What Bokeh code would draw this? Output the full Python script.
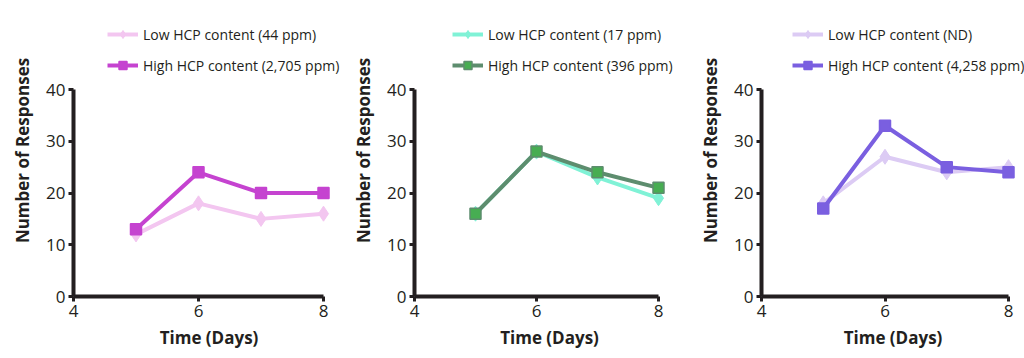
from bokeh.plotting import figure
from bokeh.layouts import row
from bokeh.models import Legend, LegendItem, FixedTicker, Range1d
from bokeh.embed import file_html
from bokeh.resources import INLINE

# ---- data ----
days = [5, 6, 7, 8]
low_1 = [12, 18, 15, 16]
high_1 = [13, 24, 20, 20]
low_2 = [16, 28, 23, 19]
high_2 = [16, 28, 24, 21]
low_3 = [18, 27, 24, 25]
high_3 = [17, 33, 25, 24]
low_labels = ["Low HCP content (44 ppm)", "Low HCP content (17 ppm)", "Low HCP content (ND)"]
high_labels = ["High HCP content (2,705 ppm)", "High HCP content (396 ppm)", "High HCP content (4,258 ppm)"]
x_ticks = [4, 6, 8]
y_ticks = [0, 10, 20, 30, 40]
x_title = "Time (Days)"
y_title = "Number of Responses"

# ---- style ----
FONT = "Open Sans"
AX = "#231f20"
panels = [
    dict(X0=0, L=73, R=323, low=low_1, high=high_1, lc="#f3c6f0", lf="#f3c6f0", hc="#c543d0", hf="#c543d0", vx=34),
    dict(X0=344, L=414, R=658, low=low_2, high=high_2, lc="#80f2d6", lf="#80f2d6", hc="#5d8d6e", hf="#47ad52", vx=38),
    dict(X0=684, L=761, R=1008, low=low_3, high=high_3, lc="#dccbf4", lf="#dccbf4", hc="#7a5fe0", hf="#7a5fe0", vx=31),
]
FIG_END = [344, 684, 1024]
TOP40, BOT0, FRAME_TOP = 89, 296, 4
H = 358

figs = []
for i, pn in enumerate(panels):
    L, R, X0 = pn["L"], pn["R"], pn["X0"]
    frame_w = FIG_END[i] - L
    ext = frame_w - (R - L)
    x_end = 8 + ext * 4.0 / (R - L)
    ppu_y = (BOT0 - TOP40) / 40.0
    y_end = 40 + (TOP40 - FRAME_TOP) / ppu_y
    bl = L - X0
    bt = FRAME_TOP
    fh = BOT0 - FRAME_TOP
    bb = H - bt - fh
    p = figure(width=FIG_END[i] - X0, height=H, output_backend="svg", toolbar_location=None,
               x_range=Range1d(4, x_end), y_range=Range1d(0, y_end),
               min_border_left=bl, min_border_right=0, min_border_top=bt, min_border_bottom=bb)
    p.outline_line_color = None
    p.grid.visible = False
    for ax in (p.xaxis[0], p.yaxis[0]):
        ax.axis_line_width = 4
        ax.axis_line_color = AX
        ax.major_tick_line_width = 3
        ax.major_tick_line_color = AX
        ax.major_tick_out = 5
        ax.major_tick_in = 0
        ax.minor_tick_out = 0
        ax.minor_tick_in = 0
        ax.major_label_text_font = FONT
        ax.major_label_text_font_size = "17px"
        ax.major_label_text_color = AX
        ax.major_label_standoff = 3
        ax.axis_label_text_font = FONT
        ax.axis_label_text_font_style = "bold"
        ax.axis_label_text_font_size = "17px"
        ax.axis_label_text_color = AX
    p.xaxis[0].axis_label_standoff = 6
    p.yaxis[0].axis_label_standoff = 9
    p.xaxis[0].bounds = (4, 8)
    p.yaxis[0].bounds = (0, 40)
    p.xaxis[0].ticker = FixedTicker(ticks=x_ticks)
    p.yaxis[0].ticker = FixedTicker(ticks=y_ticks)
    p.xaxis[0].axis_label = x_title
    p.yaxis[0].axis_label = y_title

    l_line = p.line(days, pn["low"], line_color=pn["lc"], line_width=4)
    l_pts = p.scatter(days, pn["low"], marker="diamond", size=15, fill_color=pn["lf"], line_color=pn["lc"], line_width=1)
    h_line = p.line(days, pn["high"], line_color=pn["hc"], line_width=4)
    h_pts = p.scatter(days, pn["high"], marker="square", size=11, fill_color=pn["hf"], line_color=pn["hc"], line_width=1.5)

    legend = Legend(items=[LegendItem(label=low_labels[i], renderers=[l_line, l_pts]),
                           LegendItem(label=high_labels[i], renderers=[h_line, h_pts])],
                    location=(pn["vx"], 221), glyph_width=31, glyph_height=20, label_height=20,
                    label_standoff=5, spacing=11, padding=0, margin=0,
                    border_line_color=None, background_fill_alpha=0,
                    label_text_font=FONT, label_text_font_size="14px", label_text_color=AX)
    p.add_layout(legend, "center")
    figs.append(p)

layout = row(*figs, spacing=0)
open("out.html", "w").write(file_html(layout, INLINE))
